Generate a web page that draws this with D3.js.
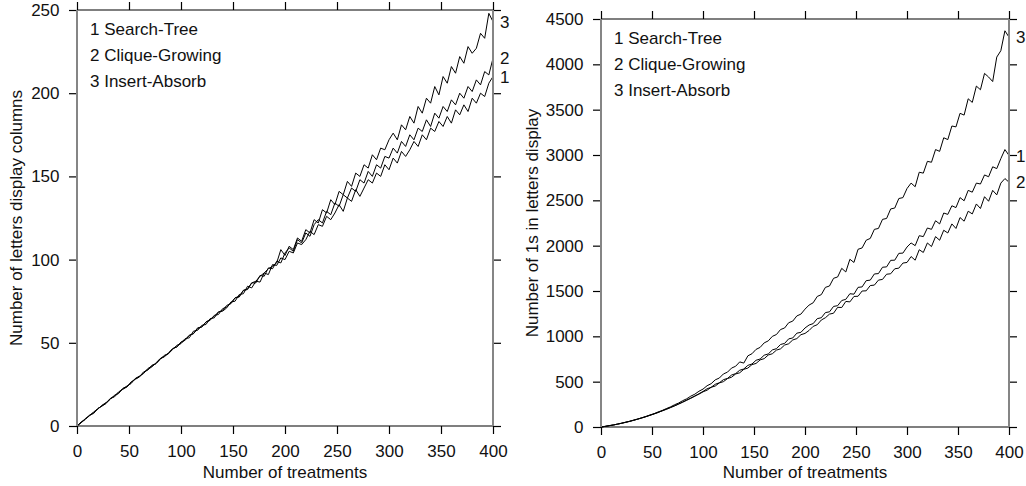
<!DOCTYPE html>
<html><head><meta charset="utf-8">
<script src="https://cdn.jsdelivr.net/npm/d3@7"></script>
<style>body{margin:0;background:#fff} svg{display:block}</style>
</head><body><svg id="c" width="1026" height="486"></svg>
<script>
// ---------- DATA ----------
const treatments = [0,4,8,12,16,20,24,28,32,36,40,44,48,52,56,60,64,68,72,76,80,84,88,92,96,100,
104,108,112,116,120,124,128,132,136,140,144,148,152,156,160,164,168,172,176,180,184,188,192,196,200,
204,208,212,216,220,224,228,232,236,240,244,248,252,256,260,264,268,272,276,280,284,288,292,296,300,
304,308,312,316,320,324,328,332,336,340,344,348,352,356,360,364,368,372,376,380,384,388,392,396,400];

const seriesNames = ["1 Search-Tree", "2 Clique-Growing", "3 Insert-Absorb"];
const endLabels = ["1", "2", "3"];
const xTicks = [0,50,100,150,200,250,300,350,400];
const colTicks = [0,50,100,150,200,250];
const onesTicks = [0,500,1000,1500,2000,2500,3000,3500,4000,4500];
const xTitle = "Number of treatments";
const colTitle = "Number of letters display columns";
const onesTitle = "Number of 1s in letters display";

// Left panel: number of letters display columns
const colsSearchTree = [0,2.5,4,6.5,8,10.5,12,14,16.5,18,20.5,22,23.5,26.5,28,29.5,32,34,35.5,38,40.5,41.5,44,46.5,47.5,50,
52.5,53,57,57.5,60.5,61,64.5,65,68.5,69,71,74.5,75,79,79.5,84,83,87,86.5,92,91,97,96.5,101,100,
105,104,110,109,112,117,115,121,120,126,124,128,133,129,137,135,142,138,143,148,146,152,150,157,154,
161,158,165,162,166,171,168,175,172,179,177,183,180,186,182,190,187,193,189,197,194,200,198,206,210];
const colsCliqueGrowing = [0,2,4.5,6,8.5,10,12.5,14,16,18.5,19.5,22.5,24,25.5,28.5,30,31.5,34.5,36,37.5,40,42.5,43.5,46,48.5,49.5,
52,54.5,55.5,58.5,59.5,62.5,63.5,66.5,67,70.5,71.5,74,77,77.5,81.5,82,86,86,90.5,90,95,94.5,99,98,104,
107,105,112,110,116,114,121,124,122,129,127,134,132,139,137,143,141,148,146,153,150,157,155,162,161,
167,164,171,168,175,172,179,177,184,180,188,185,192,189,196,193,200,197,204,201,208,205,213,211,221];
const colsInsertAbsorb = [0,2,4,6.5,7.5,10.5,12,13.5,16.5,17.5,20,22.5,23.5,26,28.5,29.5,32.5,33.5,36.5,37.5,40.5,42,43.5,46.5,47.5,50.5,
51.5,54.5,55.5,59,59.5,62.5,64,66,68.5,69.5,72.5,73.5,77,78,81.5,82.5,86,87,90,92,94.5,96,98,106,102.5,
108,106,113,111,118,116,124,122,130,128,136,133,141,139,147,144,152,150,157,155,163,160,167,166,172,
176,172,181,178,186,182,192,188,197,194,204,199,210,206,216,212,222,218,228,224,227,236,233,248,243];

// Right panel: number of 1s in letters display
const onesSearchTree = [0,7,15,21,32,40,52,61,75,86,101,113,130,143,162,177,197,213,235,251,276,294,320,339,367,392,
422,438,471,488,522,536,573,589,626,640,680,695,736,750,792,806,850,864,910,922,972,982,1035,1044,1092,
1125,1140,1195,1205,1262,1270,1330,1338,1395,1408,1470,1465,1540,1545,1614,1620,1688,1692,1762,1766,1838,1840,1915,1918,1985,
2030,2000,2110,2100,2195,2180,2275,2240,2360,2345,2440,2420,2530,2495,2610,2590,2690,2680,2780,2760,2870,2850,2960,3060,2995];
const onesCliqueGrowing = [0,6,14,23,30,42,50,63,73,88,99,115,128,146,159,180,194,216,231,255,272,298,316,343,362,388,
406,438,452,486,500,534,549,585,598,636,650,688,701,740,754,794,808,848,862,904,918,960,975,1018,1032,
1065,1110,1128,1180,1205,1245,1255,1320,1318,1385,1380,1440,1442,1500,1502,1560,1565,1620,1628,1685,1690,1745,1752,1808,1815,
1880,1840,1955,1925,2030,1990,2100,2060,2170,2140,2240,2190,2310,2270,2380,2350,2460,2410,2540,2490,2610,2560,2690,2740,2700];
const onesInsertAbsorb = [0,7,15,22,32,41,53,63,76,88,102,116,133,147,166,182,203,221,245,264,290,311,340,362,394,418,
455,478,520,540,585,605,650,670,718,705,785,808,856,878,928,950,1000,1020,1075,1092,1150,1168,1225,1245,1300,
1345,1370,1440,1460,1540,1555,1640,1655,1750,1710,1850,1815,1960,1975,2060,2080,2180,2190,2290,2300,2405,2415,2520,2530,2630,
2690,2650,2810,2800,2930,2920,3060,3040,3190,3170,3320,3310,3460,3440,3620,3580,3760,3720,3900,3860,3810,4080,4150,4370,4300];

// ---------- DRAW ----------
const FONT = '"Liberation Sans", Arial, Helvetica, sans-serif';
const FS = 17;
const svg = d3.select('#c');

function panel(cfg) {
  const x = d3.scaleLinear().domain([0, 400]).range([cfg.left, cfg.right]);
  const y = d3.scaleLinear().domain([0, cfg.yMax]).range([cfg.bottom, cfg.top]);
  const g = svg.append('g');

  // data lines
  const line = d3.line().x((d, i) => x(treatments[i])).y(d => y(d));
  cfg.series.forEach(s => {
    g.append('path').datum(s).attr('d', line)
      .attr('fill', 'none').attr('stroke', '#000').attr('stroke-width', 1)
      .attr('stroke-linejoin', 'round');
  });

  // axes
  const fmt = d3.format('d');
  const styleAxis = sel => {
    sel.select('.domain').remove();
    sel.attr('font-family', FONT).attr('font-size', FS);
    sel.selectAll('.tick line').attr('stroke', '#000').attr('stroke-width', 1.2);
    sel.selectAll('.tick text').attr('fill', '#111');
  };
  g.append('g').attr('transform', `translate(0,${cfg.bottom})`)
    .call(d3.axisBottom(x).tickValues(xTicks).tickFormat(fmt).tickSize(8).tickPadding(11).tickSizeOuter(0))
    .call(styleAxis);
  g.append('g').attr('transform', `translate(0,${cfg.top})`)
    .call(d3.axisTop(x).tickValues(xTicks).tickSize(8).tickFormat('').tickSizeOuter(0))
    .call(styleAxis);
  g.append('g').attr('transform', `translate(${cfg.left},0)`)
    .call(d3.axisLeft(y).tickValues(cfg.yTicks).tickFormat(fmt).tickSize(8).tickPadding(9.5).tickSizeOuter(0))
    .call(styleAxis);
  g.append('g').attr('transform', `translate(${cfg.right},0)`)
    .call(d3.axisRight(y).tickValues(cfg.yTicks).tickSize(8).tickFormat('').tickSizeOuter(0))
    .call(styleAxis);

  // frame
  g.append('line').attr('x1', cfg.left).attr('x2', cfg.right).attr('y1', cfg.top).attr('y2', cfg.top)
    .attr('stroke', '#000').attr('stroke-width', 1.2);
  g.append('line').attr('x1', cfg.left).attr('x2', cfg.right).attr('y1', cfg.bottom).attr('y2', cfg.bottom)
    .attr('stroke', '#000').attr('stroke-width', 1.2);
  g.append('line').attr('x1', cfg.left).attr('x2', cfg.left).attr('y1', cfg.top).attr('y2', cfg.bottom)
    .attr('stroke', '#858585').attr('stroke-width', 2);
  g.append('line').attr('x1', cfg.right).attr('x2', cfg.right).attr('y1', cfg.top).attr('y2', cfg.bottom)
    .attr('stroke', '#858585').attr('stroke-width', 2);

  // legend
  seriesNames.forEach((n, i) => {
    g.append('text').attr('x', cfg.left + 13).attr('y', cfg.top + 25 + i * 26)
      .attr('font-family', FONT).attr('font-size', FS).attr('fill', '#111').text(n);
  });

  // end labels
  cfg.series.forEach((s, i) => {
    g.append('text').attr('x', cfg.right + 7).attr('y', y(s[s.length - 1]))
      .attr('dy', '0.36em')
      .attr('font-family', FONT).attr('font-size', FS).attr('fill', '#111').text(endLabels[i]);
  });

  // axis titles
  g.append('text').attr('x', (cfg.left + cfg.right) / 2).attr('y', 478)
    .attr('text-anchor', 'middle').attr('font-family', FONT).attr('font-size', FS).attr('fill', '#111')
    .text(xTitle);
  g.append('text')
    .attr('transform', `translate(${cfg.titleX},${(cfg.top + cfg.bottom) / 2}) rotate(-90)`)
    .attr('text-anchor', 'middle').attr('font-family', FONT).attr('font-size', FS).attr('fill', '#111')
    .text(cfg.yTitle);
}

panel({left: 77, right: 493, top: 10, bottom: 426, yMax: 250, yTicks: colTicks,
       yTitle: colTitle, titleX: 22,
       series: [colsSearchTree, colsCliqueGrowing, colsInsertAbsorb]});
panel({left: 601, right: 1009, top: 19, bottom: 427, yMax: 4500, yTicks: onesTicks,
       yTitle: onesTitle, titleX: 538,
       series: [onesSearchTree, onesCliqueGrowing, onesInsertAbsorb]});
</script>
</body></html>
